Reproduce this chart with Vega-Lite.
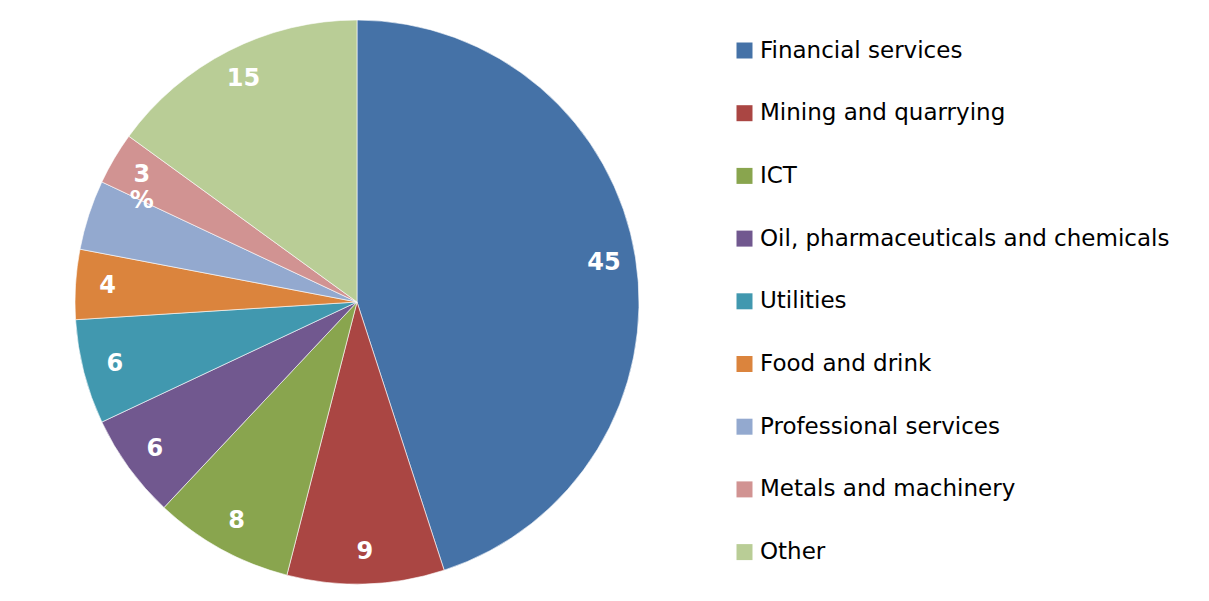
{
  "$schema": "https://vega.github.io/schema/vega-lite/v6.json",
  "width": 714,
  "height": 604,
  "padding": 0,
  "background": "white",
  "config": {"view": {"stroke": null}},
  "data": {"values": [
    {"sector": "Financial services", "share": 45, "label": "45", "k": 1},
    {"sector": "Mining and quarrying", "share": 9, "label": "9", "k": 2},
    {"sector": "ICT", "share": 8, "label": "8", "k": 3},
    {"sector": "Oil, pharmaceuticals and chemicals", "share": 6, "label": "6", "k": 4},
    {"sector": "Utilities", "share": 6, "label": "6", "k": 5},
    {"sector": "Food and drink", "share": 4, "label": "4", "k": 6},
    {"sector": "Professional services", "share": 4, "label": "", "k": 7},
    {"sector": "Metals and machinery", "share": 3, "label": "3\n%", "k": 8},
    {"sector": "Other", "share": 15, "label": "15", "k": 9}
  ]},
  "encoding": {
    "theta": {"field": "share", "type": "quantitative", "stack": true},
    "order": {"field": "k", "type": "quantitative"},
    "color": {
      "field": "sector",
      "type": "nominal",
      "sort": null,
      "scale": {
        "domain": ["Financial services", "Mining and quarrying", "ICT", "Oil, pharmaceuticals and chemicals", "Utilities", "Food and drink", "Professional services", "Metals and machinery", "Other"],
        "range": ["#4572A7", "#AA4643", "#89A54E", "#71588F", "#4198AF", "#DB843D", "#93A9CF", "#D19392", "#B9CD96"]
      },
      "legend": {
        "title": null,
        "orient": "none",
        "legendX": 733,
        "legendY": 39,
        "padding": 0,
        "symbolType": "square",
        "symbolSize": 256,
        "symbolStrokeWidth": 0,
        "labelFont": "DejaVu Sans",
        "labelFontSize": 23,
        "labelColor": "#000000",
        "labelOffset": 4,
        "labelLimit": 600,
        "gridAlign": "each",
        "rowPadding": 38.7,
        "encode": {
          "labels": {"dy": {"condition": {"test": "datum.value === 'Professional services'", "value": 17}, "value": 0}}
        }
      }
    }
  },
  "layer": [
    {"mark": {"type": "arc", "outerRadius": 282, "stroke": "#ffffff", "strokeWidth": 0.6}},
    {
      "mark": {"type": "text", "radius": 250, "font": "DejaVu Sans", "fontWeight": "bold", "fontSize": 24, "lineBreak": "\n"},
      "encoding": {
        "text": {"field": "label", "type": "nominal"},
        "color": {"value": "#ffffff"}
      }
    }
  ]
}
